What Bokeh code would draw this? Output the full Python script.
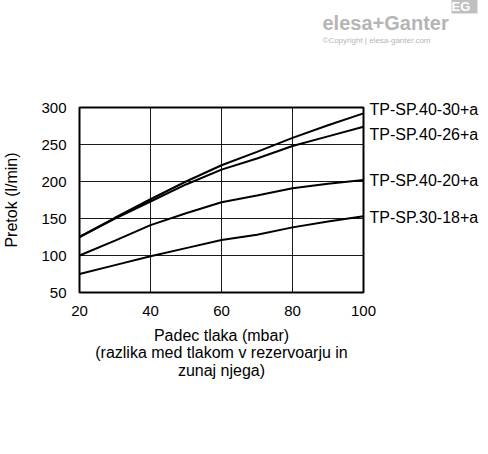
from bokeh.plotting import figure
from bokeh.models import Range1d, FixedTicker, LinearAxis, Title
from bokeh.embed import file_html
from bokeh.resources import INLINE

# Data
x_vals = [20, 30, 40, 50, 60, 70, 80, 90, 100]
s_40_30 = [125, 151, 176, 200, 222, 240, 259, 276, 292]
s_40_26 = [125, 150, 173, 196, 216, 231, 248, 261, 274]
s_40_20 = [100, 120, 141, 157, 172, 181, 191, 197, 202]
s_30_18 = [75, 87, 99, 110, 121, 128, 138, 146, 153]
series_names = ["TP-SP.40-30+a", "TP-SP.40-26+a", "TP-SP.40-20+a", "TP-SP.30-18+a"]
label_y = [297, 264, 201, 152]
x_ticks = [20, 40, 60, 80, 100]
y_ticks = [50, 100, 150, 200, 250, 300]

FONT = "Liberation Sans"

p = figure(frame_width=284, frame_height=185, output_backend="svg", toolbar_location=None,
           x_range=Range1d(20, 100), y_range=Range1d(50, 300),
           min_border_left=0, min_border_right=0, min_border_top=0, min_border_bottom=0)
p.outline_line_color = "black"
p.outline_line_width = 2
p.background_fill_color = "white"
p.border_fill_color = "white"

right_axis = LinearAxis(ticker=FixedTicker(ticks=label_y),
                        major_label_overrides={v: n for v, n in zip(label_y, series_names)})
p.add_layout(right_axis, "right")

for ax in (p.xaxis[0], p.yaxis[0], right_axis):
    ax.axis_line_color = None
    ax.major_tick_line_color = None
    ax.minor_tick_line_color = None
    ax.major_tick_out = 0
    ax.major_tick_in = 0
    ax.minor_tick_out = 0
    ax.minor_tick_in = 0
    ax.major_label_text_font = FONT
    ax.major_label_text_font_size = "15px"
    ax.major_label_text_color = "black"
    ax.axis_label_text_font = FONT
    ax.axis_label_text_font_size = "16px"
    ax.axis_label_text_font_style = "normal"
    ax.axis_label_text_color = "black"

right_axis.major_label_text_font_size = "16px"
right_axis.major_label_standoff = 6

p.xaxis[0].ticker = FixedTicker(ticks=x_ticks)
p.yaxis[0].ticker = FixedTicker(ticks=y_ticks)
p.xaxis[0].major_label_standoff = 13
p.yaxis[0].major_label_standoff = 13
p.xaxis[0].axis_label = "Padec tlaka (mbar)\n(razlika med tlakom v rezervoarju in\nzunaj njega)"
p.xaxis[0].axis_label_standoff = 8
p.xaxis[0].axis_label_text_line_height = 1.05
p.yaxis[0].axis_label = "Pretok (l/min)"
p.yaxis[0].axis_label_standoff = 18
p.yaxis[0].axis_label_text_line_height = 1.4

p.xgrid.grid_line_color = "black"
p.ygrid.grid_line_color = "black"
p.xgrid.grid_line_width = 1
p.ygrid.grid_line_width = 1
p.xgrid.grid_line_alpha = 0.9
p.ygrid.grid_line_alpha = 0.9

for ys in (s_40_30, s_40_26, s_40_20, s_30_18):
    p.line(x_vals, ys, line_color="black", line_width=2)

# Watermark logo as stacked titles (first added is closest to the frame)
p.title = None
p.add_layout(Title(text=" ", text_font=FONT, text_font_size="54.5px", standoff=0), "above")
p.add_layout(Title(text="\u00a9Copyright | elesa-ganter.com", align="left", offset=243,
                   text_font=FONT, text_font_size="8px", text_font_style="normal",
                   text_color="#b5b5b5", standoff=0), "above")
p.add_layout(Title(text="elesa+Ganter", align="left", offset=243,
                   text_font=FONT, text_font_size="20px", text_font_style="bold",
                   text_color="#b5b5b5", standoff=0), "above")
p.add_layout(Title(text=" EG ", align="left", offset=372,
                   text_font=FONT, text_font_size="13px", text_font_style="bold",
                   text_color="white", background_fill_color="#c0c0c0",
                   standoff=-8), "above")

open("out.html", "w").write(file_html(p, INLINE))
